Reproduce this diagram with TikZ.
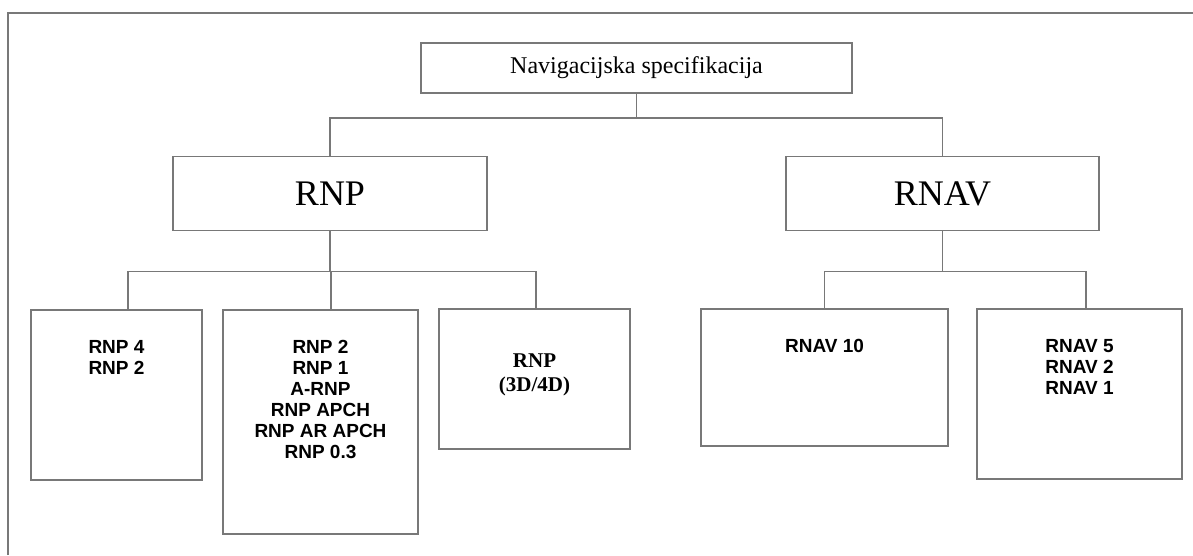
\documentclass[tikz,border=0pt]{standalone}
\usepackage{fontspec}
\setmainfont{Liberation Serif}
\setsansfont{Liberation Sans}
\usepackage{tikz}
\usetikzlibrary{positioning}
\definecolor{boxgray}{RGB}{120,120,120}
\tikzstyle{rootbox} = [rectangle, draw=boxgray, line width=1.5pt, inner sep=0pt,
                minimum width=431pt, minimum height=50pt, font=\fontsize{24}{27}\selectfont]
\tikzstyle{kind} = [rectangle, draw=boxgray, line width=1.5pt, inner sep=0pt,
                minimum width=314pt, minimum height=74pt, font=\fontsize{36}{40}\selectfont]
\tikzstyle{leaf} = [rectangle, draw=boxgray, line width=1.5pt, inner sep=0pt,
                font=\sffamily\bfseries\fontsize{19}{21}\selectfont]
\tikzstyle{line} = [draw=boxgray, line width=1.5pt]
% width, height, gap above the first line, text
\newcommand{\leaftext}[4]{\parbox[c][#2pt][t]{#1pt}{\vspace*{#3pt}\centering #4}}

\begin{document}
\begin{tikzpicture}[x=1pt, y=-1pt]
            \useasboundingbox (0,0) rectangle (1193,555);
            \draw[boxgray, line width=1.2pt] (8,555) -- (8,13) -- (1193,13);
            \node[rootbox] (nav) at (636.5,68) {Navigacijska specifikacija};
            \node[kind, below=62pt of nav, xshift=-306.5pt](rnp){RNP};
            \node[kind, below=62pt of nav, xshift=306pt, minimum width=313pt](rnav){RNAV};
            \node[leaf, below=78pt of rnp, xshift=-213.5pt](rnp4){\leaftext{171}{170}{30}{RNP 4\\RNP 2}};
            \node[leaf, below=78pt of rnp, xshift=-9.5pt](rnpapch){\leaftext{195}{224}{30}{RNP 2\\RNP 1\\A-RNP\\RNP APCH\\RNP AR APCH\\RNP 0.3}};
            \node[leaf, below=77pt of rnp, xshift=204.5pt, font=\rmfamily\bfseries\fontsize{21}{24}\selectfont](rnp3d){\leaftext{191}{140}{45}{RNP\\(3D/4D)}};
            \node[leaf, below=77pt of rnav, xshift=-118pt](rnav10){\leaftext{247}{137}{30}{RNAV 10}};
            \node[leaf, below=77pt of rnav, xshift=137pt](rnav5){\leaftext{205}{170}{30}{RNAV 5\\RNAV 2\\RNAV 1}};
            \path[line] (nav.south) -- ++(0,24) -| (rnp.north);
            \path[line] (nav.south) -- ++(0,24) -| (rnav.north);
            \path[line] (rnp.south) -- ++(0,40) -| ([xshift=11.5pt]rnp4.north);
            \path[line] (rnp.south) -- ++(0,40) -| ([xshift=10.5pt]rnpapch.north);
            \path[line] (rnp.south) -- ++(0,40) -| ([xshift=1.5pt]rnp3d.north);
            \path[line] (rnav.south) -- ++(0,40) -| (rnav10.north);
            \path[line] (rnav.south) -- ++(0,40) -| ([xshift=6.5pt]rnav5.north);
        \end{tikzpicture}
\end{document}
